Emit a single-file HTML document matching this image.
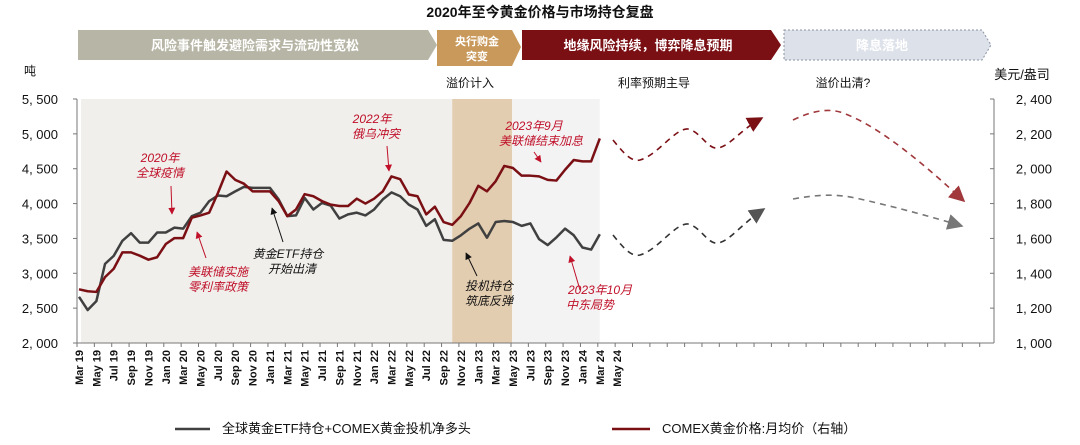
<!DOCTYPE html>
<html><head><meta charset="utf-8"><style>
body{margin:0;background:#fff;width:1080px;height:445px;overflow:hidden}
svg{display:block;font-family:"Liberation Sans","Noto Sans CJK SC",sans-serif}
.ann{font-style:italic;font-size:12px}
</style></head><body>
<svg id="chart" width="1080" height="445" viewBox="0 0 1080 445">
<defs>
<marker id="ar" viewBox="0 0 10 10" refX="9" refY="5" markerWidth="7" markerHeight="7" orient="auto"><path d="M0,0L10,5L0,10z" fill="#c0102a"/></marker>
<marker id="ak" viewBox="0 0 10 10" refX="9" refY="5" markerWidth="7" markerHeight="7" orient="auto"><path d="M0,0L10,5L0,10z" fill="#111"/></marker>
<marker id="bigr" viewBox="0 0 10 10" refX="9" refY="5" markerWidth="10" markerHeight="10" orient="auto"><path d="M0,0L10,5L0,10z" fill="#7a0f14"/></marker>
<marker id="bigr2" viewBox="0 0 10 10" refX="9" refY="5" markerWidth="10" markerHeight="10" orient="auto"><path d="M0,0L10,5L0,10z" fill="#a0383c"/></marker>
<marker id="bigk" viewBox="0 0 10 10" refX="9" refY="5" markerWidth="10" markerHeight="10" orient="auto"><path d="M0,0L10,5L0,10z" fill="#555"/></marker>
<marker id="bigk2" viewBox="0 0 10 10" refX="9" refY="5" markerWidth="10" markerHeight="10" orient="auto"><path d="M0,0L10,5L0,10z" fill="#777"/></marker>
</defs>
<text x="540" y="17" text-anchor="middle" font-size="14" font-weight="bold" fill="#111">2020年至今黄金价格与市场持仓复盘</text>

<g>
<polygon points="78,30 428,30 437,45 428,60 78,60" fill="#b7b6a6"/>
<text x="255" y="50" text-anchor="middle" font-size="13" font-weight="bold" fill="#fff">风险事件触发避险需求与流动性宽松</text>
<polygon points="437,30 512,30 521,47 512,66 437,66 437,60" fill="#c8995b"/>
<text x="477" y="45" text-anchor="middle" font-size="11" font-weight="bold" fill="#fff">央行购金</text>
<text x="477" y="60" text-anchor="middle" font-size="11" font-weight="bold" fill="#fff">突变</text>
<polygon points="522,30 771,30 781,45 771,60 522,60" fill="#7a0f14"/>
<text x="648" y="50" text-anchor="middle" font-size="13" font-weight="bold" fill="#fff">地缘风险持续，博弈降息预期</text>
<polygon points="784,30 982,30 991,45 982,60 784,60" fill="#dde2ea" stroke="#8a93a3" stroke-dasharray="2,2"/>
<text x="882" y="50" text-anchor="middle" font-size="13" font-weight="bold" fill="#fff">降息落地</text>
</g>
<text x="470" y="87" text-anchor="middle" font-size="12" fill="#111">溢价计入</text>
<text x="654" y="87" text-anchor="middle" font-size="12" fill="#111">利率预期主导</text>
<text x="843" y="87" text-anchor="middle" font-size="12" fill="#111">溢价出清?</text>
<text x="30" y="75" text-anchor="middle" font-size="12" fill="#111">吨</text>
<text x="1022" y="79" text-anchor="middle" font-size="13" fill="#111">美元/盎司</text>

<g id="bg"></g>
<g id="axes"></g>
<g id="series"></g>

<g fill="none" stroke-width="1.6" stroke-dasharray="6,5">
<path d="M613,140 C625,155 632,162 640,160 C658,155 675,128 688,129 C700,131 708,150 718,148 C730,146 740,130 762,118" stroke="#7a0f14" marker-end="url(#bigr)"/>
<path d="M613,235 C625,250 632,257 640,255 C658,250 675,223 688,224 C700,226 708,245 718,243 C730,241 740,225 764,209" stroke="#333" marker-end="url(#bigk)"/>
<path d="M793,120 C810,112 825,108 840,112 C880,125 930,170 964,201" stroke="#a0383c" marker-end="url(#bigr2)"/>
<path d="M793,199 C815,195 835,193 860,199 C900,208 935,218 962,226" stroke="#777" marker-end="url(#bigk2)"/>
</g>

<g>
<text class="ann" x="160" y="162" text-anchor="middle" fill="#c0102a">2020年</text>
<text class="ann" x="160" y="177" text-anchor="middle" fill="#c0102a">全球疫情</text>
<line x1="171" y1="186" x2="172" y2="214" stroke="#c0102a" marker-end="url(#ar)"/>
<text class="ann" x="218" y="276" text-anchor="middle" fill="#c0102a">美联储实施</text>
<text class="ann" x="218" y="291" text-anchor="middle" fill="#c0102a">零利率政策</text>
<line x1="206" y1="258" x2="197" y2="232" stroke="#c0102a" marker-end="url(#ar)"/>
<text class="ann" x="288" y="258" text-anchor="middle" fill="#111">黄金ETF持仓</text>
<text class="ann" x="292" y="273" text-anchor="middle" fill="#111">开始出清</text>
<line x1="283" y1="242" x2="272" y2="208" stroke="#111" marker-end="url(#ak)"/>
<text class="ann" x="372" y="123" text-anchor="middle" fill="#c0102a">2022年</text>
<text class="ann" x="376" y="138" text-anchor="middle" fill="#c0102a">俄乌冲突</text>
<line x1="387" y1="146" x2="389" y2="171" stroke="#c0102a" marker-end="url(#ar)"/>
<text class="ann" x="534" y="130" text-anchor="middle" fill="#c0102a">2023年9月</text>
<text class="ann" x="541" y="145" text-anchor="middle" fill="#c0102a">美联储结束加息</text>
<line x1="534" y1="152" x2="541" y2="162" stroke="#c0102a" marker-end="url(#ar)"/>
<text class="ann" x="489" y="290" text-anchor="middle" fill="#111">投机持仓</text>
<text class="ann" x="489" y="305" text-anchor="middle" fill="#111">筑底反弹</text>
<line x1="477" y1="276" x2="466" y2="253" stroke="#111" marker-end="url(#ak)"/>
<text class="ann" x="600" y="294" text-anchor="middle" fill="#c0102a">2023年10月</text>
<text class="ann" x="590" y="309" text-anchor="middle" fill="#c0102a">中东局势</text>
<line x1="580" y1="290" x2="570" y2="256" stroke="#c0102a" marker-end="url(#ar)"/>
</g>

<g>
<line x1="175" y1="429" x2="210" y2="429" stroke="#404040" stroke-width="2.5"/>
<text x="222" y="433" font-size="13" fill="#111">全球黄金ETF持仓+COMEX黄金投机净多头</text>
<line x1="612" y1="429" x2="650" y2="429" stroke="#7a0f14" stroke-width="2.5"/>
<text x="662" y="433" font-size="13" fill="#111">COMEX黄金价格:月均价（右轴）</text>
</g>
</svg>
<script>
const months = ["Mar","Apr","May","Jun","Jul","Aug","Sep","Oct","Nov","Dec","Jan","Feb"];
const startYear = 19;
const holdings = [2662,2473,2600,3135,3250,3466,3575,3440,3440,3585,3585,3655,3640,3820,3870,4035,4115,4105,4175,4240,4225,4225,4225,4060,3820,3830,4080,3915,4010,3970,3785,3845,3870,3830,3915,4060,4160,4105,3985,3915,3680,3775,3480,3466,3545,3640,3715,3510,3735,3750,3735,3680,3715,3490,3405,3515,3640,3545,3370,3340,3560];
const price = [1308,1297,1293,1378,1426,1520,1520,1501,1478,1492,1568,1602,1602,1719,1732,1748,1860,1984,1936,1914,1870,1870,1870,1814,1728,1766,1854,1842,1814,1794,1786,1786,1828,1800,1828,1870,1956,1940,1852,1842,1738,1782,1694,1678,1728,1804,1902,1870,1928,2016,2004,1960,1960,1956,1936,1932,1994,2050,2042,2042,2174];
const leftTicks = [2000,2500,3000,3500,4000,4500,5000,5500];
const rightTicks = [1000,1200,1400,1600,1800,2000,2200,2400];
const labelCount = 32;

const NS="http://www.w3.org/2000/svg";
const X0=79, MW=8.68, YT=99, YB=343;
const x = i => X0 + i*MW;
const yL = v => YB - (v-2000)/3500*(YB-YT);
const yR = v => YB - (v-1000)/1400*(YB-YT);
function mk(tag, attrs, parent){const e=document.createElementNS(NS,tag);for(const k in attrs)e.setAttribute(k,attrs[k]);parent.appendChild(e);return e;}
const bg=document.getElementById('bg'), ax=document.getElementById('axes'), se=document.getElementById('series');

let r=mk('rect',{x:81,y:YT,width:x(43.0)-81,height:YB-YT,fill:'#f0efeb'},bg);


r=mk('rect',{x:x(43.0),y:YT,width:x(49.9)-x(43.0),height:YB-YT,fill:'#e3cdb0'},bg);


r=mk('rect',{x:x(49.9),y:YT,width:x(60)-x(49.9),height:YB-YT,fill:'#f3f3f3'},bg);



let l=mk('line',{x1:77,y1:YT,x2:77,y2:YB,stroke:'#777'},ax);


l=mk('line',{x1:994,y1:YT,x2:994,y2:YB,stroke:'#777'},ax);


l=mk('line',{x1:77,y1:YB,x2:994,y2:YB,stroke:'#777'},ax);



leftTicks.forEach(v=>{
  mk('line',{x1:73,y1:yL(v),x2:77,y2:yL(v),stroke:'#777'},ax);
  const t=mk('text',{x:58,y:yL(v)+5,'text-anchor':'end','font-size':13,fill:'#111'},ax);
  t.textContent=v.toLocaleString('en-US').replace(',',', ');
  
  
});
rightTicks.forEach(v=>{
  mk('line',{x1:990,y1:yR(v),x2:994,y2:yR(v),stroke:'#777'},ax);
  const t=mk('text',{x:1052,y:yR(v)+5,'text-anchor':'end','font-size':13,fill:'#111'},ax);
  t.textContent=v.toLocaleString('en-US').replace(',',', ');
  
  
});
for(let k=0;k<=53;k++){
  const xx=77+k*17.36;
  if(xx<=994) mk('line',{x1:xx,y1:YB,x2:xx,y2:YB+4,stroke:'#777'},ax);
}
for(let k=0;k<labelCount;k++){
  const m=k*2, mon=months[m%12], yr=startYear+Math.floor((m+2)/12);
  const xx=x(m)+4;
  const t=mk('text',{x:0,y:0,transform:`translate(${xx},350) rotate(-90)`,'text-anchor':'end','font-size':11,'font-weight':'bold',fill:'#111'},ax);
  t.textContent=mon+' '+yr;
  
  
}
let p=mk('polyline',{points:holdings.map((v,i)=>x(i)+','+yL(v)).join(' '),fill:'none',stroke:'#404040','stroke-width':2.5,'stroke-linejoin':'round'},se);


p=mk('polyline',{points:price.map((v,i)=>x(i)+','+yR(v)).join(' '),fill:'none',stroke:'#7a0f14','stroke-width':2.5,'stroke-linejoin':'round'},se);


</script>
</body></html>
